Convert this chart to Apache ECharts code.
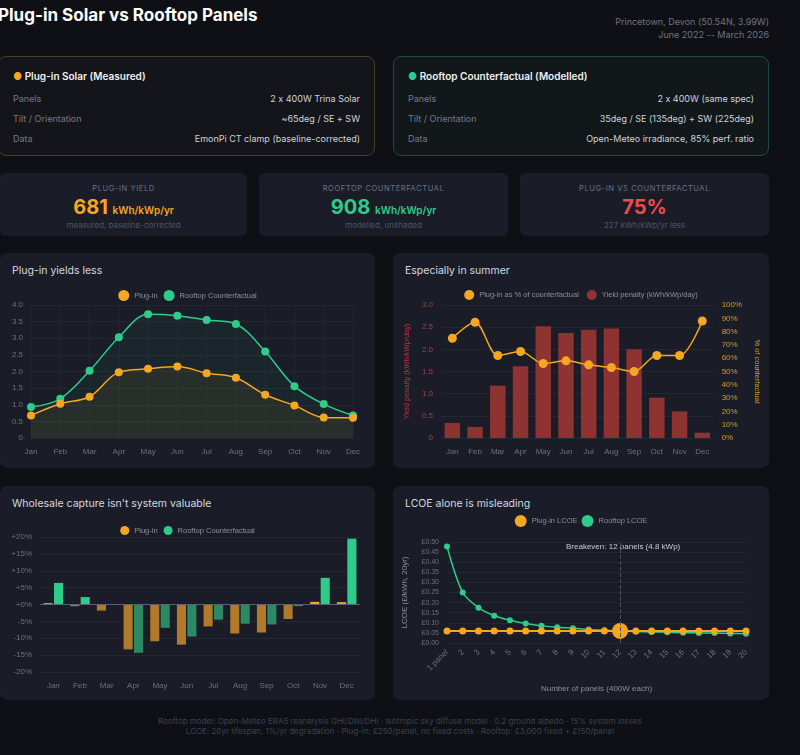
<!DOCTYPE html>
<html><head><meta charset="utf-8">
<script src="https://cdn.jsdelivr.net/npm/echarts@6/dist/echarts.min.js"></script>
<style>
body{margin:0;width:800px;height:755px;background:#0e1016;font-family:Inter,"Noto Sans",sans-serif;font-feature-settings:"calt" 0;overflow:hidden;position:relative;color:#e6e8ee}
.abs{position:absolute}
.card{position:absolute;border-radius:8px;box-sizing:border-box}
.row{display:flex;justify-content:space-between;font-size:9px;color:#cfd3dc;margin-top:9px}
.row span:first-child{color:#747a88}
.stat{position:absolute;top:173px;height:63px;background:#1a1d27;border-radius:6px;text-align:center}
.sl{font-size:7.5px;color:#6c7282;letter-spacing:.6px;margin-top:11px}
.sv{font-size:20px;font-weight:700;margin-top:2px}
.sv small{font-size:10px;font-weight:600}
.ss{font-size:8px;color:#4e5462;margin-top:1px}
.panel{position:absolute;background:#1a1d27;border-radius:7px}
.pt{position:absolute;font-size:10.5px;color:#d6d9e0;left:12px;top:11px}
</style></head><body>
<div class="abs" style="left:-2px;top:5px;font-size:17px;font-weight:700;color:#fff">Plug-in Solar vs Rooftop Panels</div>
<div class="abs" style="right:31px;top:15px;font-size:9px;color:#6e7482;text-align:right;line-height:13px">Princetown, Devon (50.54N, 3.99W)<br>June 2022 -- March 2026</div>

<div class="card" style="left:-2px;top:56px;width:377px;height:100px;border:1px solid #4a4020;background:#14151a;padding:13px 14px 0 14px">
<div style="font-size:10px;font-weight:600;color:#f0f0f0"><span style="color:#f5a623">●</span> Plug-in Solar (Measured)</div>
<div class="row" style="margin-top:11px"><span>Panels</span><span>2 x 400W Trina Solar</span></div>
<div class="row"><span>Tilt / Orientation</span><span>~65deg / SE + SW</span></div>
<div class="row"><span>Data</span><span>EmonPi CT clamp (baseline-corrected)</span></div>
</div>
<div class="card" style="left:393px;top:56px;width:376px;height:100px;border:1px solid #1f4a3d;background:#12171a;padding:13px 14px 0 14px">
<div style="font-size:10px;font-weight:600;color:#f0f0f0"><span style="color:#2ecc8a">●</span> Rooftop Counterfactual (Modelled)</div>
<div class="row" style="margin-top:11px"><span>Panels</span><span>2 x 400W (same spec)</span></div>
<div class="row"><span>Tilt / Orientation</span><span>35deg / SE (135deg) + SW (225deg)</span></div>
<div class="row"><span>Data</span><span>Open-Meteo irradiance, 85% perf. ratio</span></div>
</div>

<div class="stat" style="left:0;width:247px"><div class="sl">PLUG-IN YIELD</div><div class="sv" style="color:#f5a623">681 <small>kWh/kWp/yr</small></div><div class="ss">measured, baseline-corrected</div></div>
<div class="stat" style="left:259px;width:249px"><div class="sl">ROOFTOP COUNTERFACTUAL</div><div class="sv" style="color:#2ecc8a">908 <small>kWh/kWp/yr</small></div><div class="ss">modelled, unshaded</div></div>
<div class="stat" style="left:520px;width:249px"><div class="sl">PLUG-IN VS COUNTERFACTUAL</div><div class="sv" style="color:#ef4b4b">75%</div><div class="ss">227 kWh/kWp/yr less</div></div>

<div class="panel" style="left:0;top:253px;width:375px;height:215px"><div class="pt">Plug-in yields less</div></div>
<div class="panel" style="left:393px;top:253px;width:376px;height:215px"><div class="pt">Especially in summer</div></div>
<div class="panel" style="left:0;top:486px;width:375px;height:214px"><div class="pt">Wholesale capture isn't system valuable</div></div>
<div class="panel" style="left:393px;top:486px;width:376px;height:214px"><div class="pt">LCOE alone is misleading</div></div>

<div id="c1" class="abs" style="left:0;top:283px;width:375px;height:185px"></div>
<div id="c2" class="abs" style="left:393px;top:283px;width:376px;height:185px"></div>
<div id="c3" class="abs" style="left:0;top:510px;width:375px;height:190px"></div>
<div id="c4" class="abs" style="left:393px;top:510px;width:376px;height:190px"></div>

<div class="abs" style="left:0;width:800px;top:716px;text-align:center;font-size:8px;color:#3c414d;line-height:10px">Rooftop model: Open-Meteo ERA5 reanalysis GHI/DNI/DHI · Isotropic sky diffuse model · 0.2 ground albedo · 15% system losses<br>LCOE: 20yr lifespan, 1%/yr degradation · Plug-in: £250/panel, no fixed costs · Rooftop: £3,000 fixed + £150/panel</div>

<script>
const months=['Jan','Feb','Mar','Apr','May','Jun','Jul','Aug','Sep','Oct','Nov','Dec'];
const plugYield=[0.68,1.03,1.24,1.98,2.08,2.15,1.95,1.81,1.30,0.98,0.62,0.61];
const roofYield=[0.93,1.18,2.02,3.03,3.72,3.68,3.55,3.43,2.60,1.56,1.02,0.68];
const penalty=[0.34,0.25,1.18,1.62,2.52,2.37,2.44,2.47,2.00,0.91,0.60,0.12];
const pctOfCf=[75,87,62,65,56,58,55,53,50,62,62,88];
const capturePlug=[0.4,-0.5,-1.8,-13.3,-10.9,-11.9,-6.5,-8.6,-8.3,-4.3,0.8,0.7];
const captureRoof=[6.4,2.2,0,-14.3,-6.9,-9.5,-4.5,-5.7,-5.9,-0.5,7.9,19.5];
const panelLabels=['1 panel','2','3','4','5','6','7','8','9','10','11','12','13','14','15','16','17','18','19','20'];
const lcoePlug=[0.060,0.060,0.060,0.060,0.060,0.060,0.060,0.060,0.060,0.060,0.060,0.060,0.060,0.060,0.060,0.060,0.060,0.060,0.060,0.060];
const lcoeRoof=[0.478,0.250,0.175,0.135,0.113,0.097,0.086,0.078,0.073,0.067,0.063,0.060,0.057,0.055,0.053,0.051,0.050,0.049,0.047,0.046];

const O='#f5a623',G='#2ecc8a',R='#8e3232';
const ax={color:'#6b7180',fontSize:8};
const split={lineStyle:{color:'#232733'}};
const legTxt={color:'#8a909c',fontSize:7.5};
const f1=v=>v===0?'0':v.toFixed(1);

echarts.init(document.getElementById('c1')).setOption({
 animation:false,
 legend:{top:2,itemWidth:11,itemHeight:11,itemGap:6,icon:'circle',textStyle:legTxt},
 grid:{left:31,right:22,top:22,bottom:30},
 xAxis:{type:'category',data:months,boundaryGap:false,axisLine:{show:false},axisTick:{show:false},axisLabel:{...ax,margin:10},splitLine:{show:true,lineStyle:{color:'#20242e'}}},
 yAxis:{type:'value',min:0,max:4,interval:0.5,axisLabel:{...ax,formatter:f1},splitLine:split},
 series:[
  {name:'Plug-in',type:'line',data:plugYield,smooth:0.35,color:O,symbol:'circle',symbolSize:8,lineStyle:{width:1.5},areaStyle:{color:'rgba(245,166,35,0.10)'}},
  {name:'Rooftop Counterfactual',type:'line',data:roofYield,smooth:0.35,color:G,symbol:'circle',symbolSize:8,lineStyle:{width:1.5},areaStyle:{color:'rgba(46,204,138,0.07)'},z:1}
 ]});

echarts.init(document.getElementById('c2')).setOption({
 animation:false,
 legend:{top:2,itemGap:8,textStyle:legTxt,data:[{name:'Plug-in as % of counterfactual',icon:'circle',itemStyle:{color:O}},{name:'Yield penalty (kWh/kWp/day)',icon:'circle'}],itemWidth:10,itemHeight:10},
 grid:{left:48,right:52,top:22,bottom:30},
 xAxis:{type:'category',data:months,axisLine:{show:false},axisTick:{show:false},axisLabel:{...ax,margin:10}},
 yAxis:[{type:'value',min:0,max:3,interval:0.5,axisLabel:{...ax,color:'#b53a3a',formatter:f1},splitLine:split,name:'Yield penalty (kWh/kWp/day)',nameLocation:'middle',nameGap:29,nameTextStyle:{color:'#b53a3a',fontSize:7.5}},
  {type:'value',min:0,max:100,interval:10,axisLabel:{...ax,color:'#d99a2b',formatter:'{value}%'},splitLine:{show:false},name:'% of counterfactual',nameLocation:'middle',nameGap:32,nameRotate:-90,nameTextStyle:{color:'#d99a2b',fontSize:7.5}}],
 series:[
  {name:'Yield penalty (kWh/kWp/day)',type:'bar',data:penalty,color:R,barWidth:'68%'},
  {name:'Plug-in as % of counterfactual',type:'line',yAxisIndex:1,data:pctOfCf,smooth:0.3,color:O,symbol:'circle',symbolSize:9,lineStyle:{width:1.5}}
 ]});

const barCol=(pos,neg)=>p=>p.value>=0?pos:neg;
echarts.init(document.getElementById('c3')).setOption({
 animation:false,
 legend:{top:11,itemWidth:9,itemHeight:9,itemGap:6,icon:'circle',textStyle:legTxt,data:[{name:'Plug-in',itemStyle:{color:O}},{name:'Rooftop Counterfactual',itemStyle:{color:G}}]},
 grid:{left:40,right:15,top:27,bottom:28},
 xAxis:{type:'category',data:months,axisLine:{show:false},axisTick:{show:false},axisLabel:{...ax,margin:10}},
 yAxis:{type:'value',min:-20,max:20,interval:5,axisLabel:{...ax,formatter:v=>(v>=0?'+':'')+v+'%'},splitLine:split},
 series:[
  {name:'Plug-in',type:'bar',data:capturePlug,color:O,itemStyle:{color:barCol('#f5a623','#b07a2a')},barWidth:'34%',barGap:'15%',
   markLine:{silent:true,symbol:'none',label:{show:false},lineStyle:{color:'#5a606c',type:'solid',width:1},data:[{yAxis:0}]}},
  {name:'Rooftop Counterfactual',type:'bar',data:captureRoof,color:G,itemStyle:{color:barCol('#2ecc8a','#2b8a64')},barWidth:'34%'}
 ]});

const plugData=lcoePlug.map((v,i)=>i===11?{value:v,symbolSize:16}:v);
echarts.init(document.getElementById('c4')).setOption({
 animation:false,
 legend:{top:0,itemGap:4,textStyle:legTxt,itemWidth:12,itemHeight:12,data:[{name:'Plug-in LCOE',icon:'circle'},{name:'Rooftop LCOE',icon:'circle'}]},
 grid:{left:53,right:23,top:32,bottom:57},
 xAxis:{type:'category',data:panelLabels,boundaryGap:false,axisLine:{show:false},axisTick:{show:false},axisLabel:{...ax,rotate:45,interval:0,margin:8},
  name:'Number of panels (400W each)',nameLocation:'middle',nameGap:42,nameTextStyle:{color:'#8a909c',fontSize:8}},
 yAxis:{type:'value',min:0,max:0.5,interval:0.05,axisLabel:{...ax,fontSize:7,formatter:v=>'£'+v.toFixed(2)},splitLine:split,
  name:'LCOE (£/kWh, 20yr)',nameLocation:'middle',nameGap:38,nameTextStyle:{color:'#8a909c',fontSize:8}},
 graphic:[{type:'text',left:173,top:33,style:{text:'Breakeven: 12 panels (4.8 kWp)',fill:'#c8ccd4',fontSize:8}}],
 series:[
  {name:'Rooftop LCOE',type:'line',data:lcoeRoof,smooth:0.3,color:G,symbol:'circle',symbolSize:6,lineStyle:{width:1.5}},
  {name:'Plug-in LCOE',type:'line',data:plugData,color:O,symbol:'circle',symbolSize:7,lineStyle:{width:2},
   markLine:{silent:true,symbol:'none',label:{show:false},lineStyle:{color:'#4d525e',type:'dashed',width:1},data:[{xAxis:'12'}]}}
 ]});
</script></body></html>
